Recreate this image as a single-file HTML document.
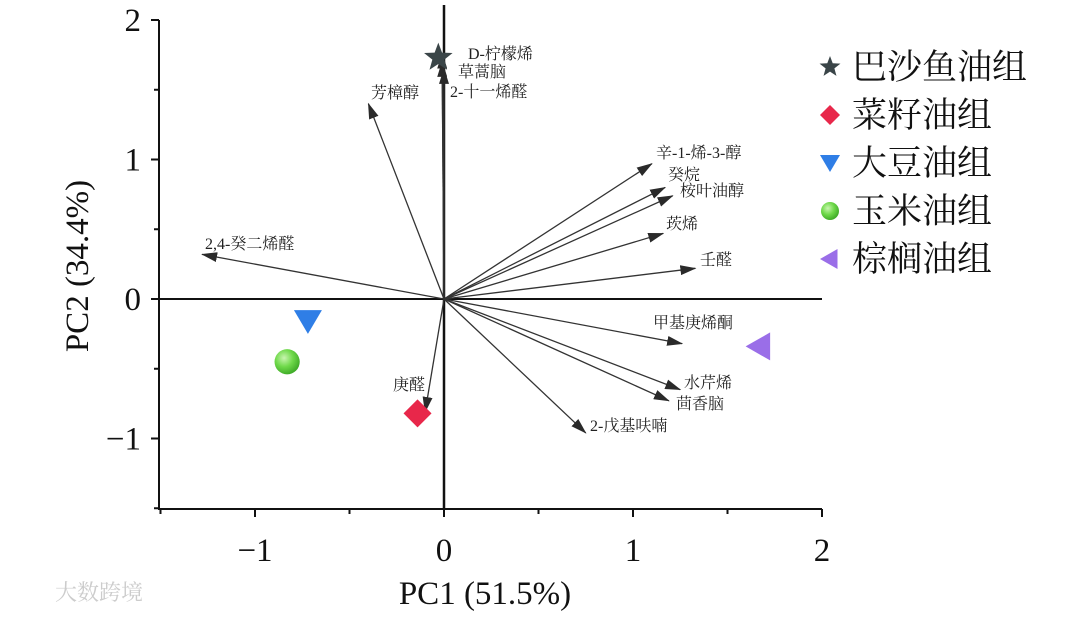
<!DOCTYPE html>
<html><head><meta charset="utf-8"><style>
body{margin:0;background:#fff;}
svg text{font-family:"Liberation Serif","Noto Serif CJK SC",serif;}
</style></head><body>
<svg id="chart" width="1080" height="616" viewBox="0 0 1080 616" xmlns="http://www.w3.org/2000/svg">
<defs><marker id="ah" viewBox="0 0 16 10" refX="15" refY="5" markerWidth="16" markerHeight="10" orient="auto" markerUnits="userSpaceOnUse"><path d="M0,0L16,5L0,10z" fill="#2a2a2a"/></marker>
<radialGradient id="sph" cx="0.38" cy="0.35" r="0.7"><stop offset="0" stop-color="#c9f5b0"/><stop offset="0.5" stop-color="#6fd94a"/><stop offset="1" stop-color="#3aa624"/></radialGradient></defs>
<g id="axes"></g><g id="vecs"></g><g id="pts"></g><g id="legend"></g>
<text x="55" y="600" font-size="22" fill="#ccc" font-family="Liberation Sans, Noto Sans CJK SC, sans-serif">大数跨境</text>
</svg>
<script>
const xTicks=[-1,0,1,2];
const yTicks=[-1,0,1,2];
const varNames=["D-柠檬烯","草蒿脑","2-十一烯醛","芳樟醇","辛-1-烯-3-醇","癸烷","桉叶油醇","莰烯","壬醛","2,4-癸二烯醛","甲基庚烯酮","水芹烯","茴香脑","2-戊基呋喃","庚醛"];
const varPC1=[-0.01,-0.01,0,-0.40,1.10,1.17,1.21,1.16,1.33,-1.28,1.26,1.25,1.19,0.75,-0.10];
const varPC2=[1.76,1.70,1.65,1.40,0.97,0.80,0.74,0.47,0.22,0.32,-0.32,-0.65,-0.73,-0.96,-0.81];
const groups=["巴沙鱼油组","菜籽油组","大豆油组","玉米油组","棕榈油组"];
const grpPC1=[-0.03,-0.14,-0.72,-0.83,1.67];
const grpPC2=[1.73,-0.82,-0.16,-0.45,-0.34];
const X=v=>444+v*189, Y=v=>299-v*139.5;
const NS="http://www.w3.org/2000/svg";
function mk(p,t,a){const e=document.createElementNS(NS,t);for(const k in a)e.setAttribute(k,a[k]);p.appendChild(e);return e;}
const ax=document.getElementById('axes');
let l=mk(ax,'line',{x1:159,y1:20,x2:159,y2:509,stroke:'#111','stroke-width':2});

l=mk(ax,'line',{x1:158,y1:509,x2:822,y2:509,stroke:'#111','stroke-width':2});

l=mk(ax,'line',{x1:159,y1:Y(0),x2:822,y2:Y(0),stroke:'#111','stroke-width':2});

l=mk(ax,'line',{x1:X(0),y1:5,x2:X(0),y2:509,stroke:'#111','stroke-width':2.5});

for(let v=-1.5;v<=2.01;v+=0.5){const t=mk(ax,'line',{x1:X(v),y1:509,x2:X(v),y2:Number.isInteger(v)?517:514,stroke:'#111','stroke-width':2});
}
for(let v=-1.5;v<=2.01;v+=0.5){const t=mk(ax,'line',{x1:159,y1:Y(v),x2:Number.isInteger(v)?151:154,y2:Y(v),stroke:'#111','stroke-width':2});
}
xTicks.forEach(v=>{const t=mk(ax,'text',{x:X(v),y:561,'font-size':33,'text-anchor':'middle',fill:'#111'});t.textContent=(v<0?'−'+(-v):v);
});
yTicks.forEach(v=>{const t=mk(ax,'text',{x:141,y:Y(v)+11,'font-size':33,'text-anchor':'end',fill:'#111'});t.textContent=(v<0?'−'+(-v):v);
});
let tt=mk(ax,'text',{x:485,y:604,'font-size':33,'text-anchor':'middle',fill:'#111'});tt.textContent='PC1 (51.5%)';

tt=mk(ax,'text',{x:0,y:0,'font-size':33,'text-anchor':'middle',fill:'#111',transform:'translate(88,266) rotate(-90)'});tt.textContent='PC2 (34.4%)';

const lab=[[468,59],[458,77],[450,97],[371,98],[656,158],[668,180],[680,196],[666,229],[700,265],[205,249],[653,328],[684,388],[676,409],[590,431],[393,390]];
const vg=document.getElementById('vecs');
varNames.forEach((n,i)=>{const a=mk(vg,'line',{x1:X(0),y1:Y(0),x2:X(varPC1[i]),y2:Y(varPC2[i]),stroke:'#333','stroke-width':1.3,'marker-end':'url(#ah)'});

const t=mk(vg,'text',{x:lab[i][0],y:lab[i][1],'font-size':16,fill:'#222'});t.textContent=n;
});
const pg=document.getElementById('pts');
function shape(p,k,cx,cy,s){
 if(k===0){let d='';for(let j=0;j<10;j++){const r=j%2?s*0.42:s,an=-Math.PI/2+j*Math.PI/5;d+=(j?'L':'M')+(cx+r*Math.cos(an))+','+(cy+r*Math.sin(an));}return mk(p,'path',{d:d+'z',fill:'#3a4548'});}
 if(k===1)return mk(p,'path',{d:`M${cx},${cy-s}L${cx+s},${cy}L${cx},${cy+s}L${cx-s},${cy}z`,fill:'#e8274a'});
 if(k===2)return mk(p,'path',{d:`M${cx-s},${cy-s*0.8}L${cx+s},${cy-s*0.8}L${cx},${cy+s*0.9}z`,fill:'#2f7ee6'});
 if(k===3)return mk(p,'circle',{cx:cx,cy:cy,r:s*0.9,fill:'url(#sph)'});
 return mk(p,'path',{d:`M${cx-s},${cy}L${cx+s*0.75},${cy-s}L${cx+s*0.75},${cy+s}z`,fill:'#9a6ee8'});
}
groups.forEach((g,i)=>{const e=shape(pg,i,X(grpPC1[i]),Y(grpPC2[i]),i===0?15:14);
});
const lg=document.getElementById('legend');
groups.forEach((g,i)=>{const y=67+i*48;const e=shape(lg,i,830,y,i===0?11:10);

const t=mk(lg,'text',{x:852,y:y+12,'font-size':35,fill:'#111'});t.textContent=g;
});
</script>
</body></html>
